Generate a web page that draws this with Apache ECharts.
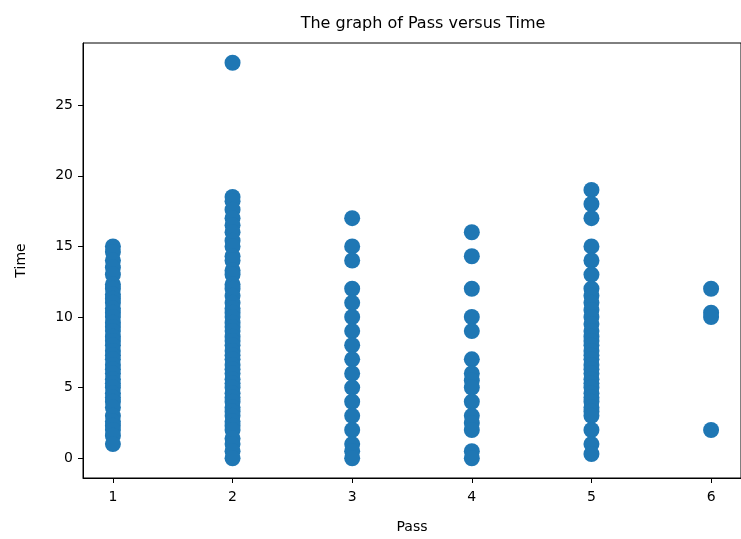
<!DOCTYPE html>
<html>
<head>
<meta charset="utf-8">
<script src="https://cdn.jsdelivr.net/npm/echarts@6/dist/echarts.min.js"></script>
<style>html,body{margin:0;padding:0;background:#fff}#c{width:741px;height:539px}</style>
</head>
<body>
<div id="c"></div>
<script>
// Time values for each Pass group
var pass1 = [15, 14.6, 14, 13.5, 13, 12.3, 12, 11.6, 11.3, 11, 10.6, 10.3, 10, 9.6, 9.3, 9, 8.6, 8.3, 8, 7.6, 7.3, 7, 6.6, 6.3, 6, 5.6, 5.3, 5, 4.6, 4.3, 4, 3.6, 3, 2.6, 2.3, 2, 1.6, 1];
var pass2 = [28, 18.5, 18.2, 17.6, 17, 16.5, 16, 15.4, 15, 14.3, 14, 13.3, 13, 12.3, 12, 11.5, 11, 10.6, 10.3, 10, 9.6, 9.3, 9, 8.6, 8.3, 8, 7.6, 7.3, 7, 6.6, 6.3, 6, 5.6, 5.3, 5, 4.6, 4.3, 4, 3.6, 3.3, 3, 2.6, 2.3, 2, 1.4, 1, 0.5, 0];
var pass3 = [17, 15, 14, 12, 11, 10, 9, 8, 7, 6, 5, 4, 3, 2, 1, 0.5, 0];
var pass4 = [16, 14.3, 12, 10, 9, 7, 6, 5.5, 5, 4, 3, 2.5, 2, 0.5, 0];
var pass5 = [19, 18, 17, 15, 14, 13, 12, 11.5, 11, 10.5, 10, 9.5, 9, 8.6, 8.3, 8, 7.6, 7.3, 7, 6.6, 6.3, 6, 5.6, 5.3, 5, 4.6, 4.3, 4, 3.6, 3.3, 3, 2, 1, 0.3];
var pass6 = [12, 10.3, 10, 2];
var groups = [pass1, pass2, pass3, pass4, pass5, pass6];
var xTicks = [1, 2, 3, 4, 5, 6];
var yTicks = [0, 5, 10, 15, 20, 25];

var points = [];
groups.forEach(function (g, i) {
  g.forEach(function (v) { points.push([xTicks[i], v]); });
});

var chart = echarts.init(document.getElementById('c'), null, {renderer: 'canvas'});
var font = 'DejaVu Sans';
chart.setOption({
  animation: false,
  title: {
    text: 'The graph of Pass versus Time',
    left: 418, top: 11, textAlign: 'center',
    textStyle: {fontFamily: font, fontSize: 16, fontWeight: 'normal', color: '#000'}
  },
  grid: {left: 83, top: 43, right: -12, bottom: 60, show: true, borderColor: '#000', borderWidth: 1, backgroundColor: '#fff'},
  xAxis: {
    type: 'value', min: 0.75, max: 6.25,
    name: 'Pass', nameLocation: 'middle', nameGap: 42,
    nameTextStyle: {fontFamily: font, fontSize: 14, color: '#000'},
    axisLine: {show: true, onZero: false, lineStyle: {color: '#000', width: 1}},
    axisTick: {show: true, length: 5, inside: false, customValues: xTicks, lineStyle: {color: '#000'}},
    axisLabel: {customValues: xTicks, fontFamily: font, fontSize: 14, color: '#000', margin: 12},
    splitLine: {show: false}
  },
  yAxis: {
    type: 'value', min: -1.4, max: 29.4,
    name: 'Time', nameLocation: 'middle', nameGap: 55, nameRotate: 90,
    nameTextStyle: {fontFamily: font, fontSize: 14, color: '#000'},
    axisLine: {show: true, onZero: false, lineStyle: {color: '#000', width: 1}},
    axisTick: {show: true, length: 5, inside: false, customValues: yTicks, lineStyle: {color: '#000'}},
    axisLabel: {customValues: yTicks, fontFamily: font, fontSize: 14, color: '#000', margin: 10},
    splitLine: {show: false}
  },
  series: [{
    type: 'scatter',
    data: points,
    symbol: 'circle',
    symbolSize: 16,
    itemStyle: {color: '#1f77b4', opacity: 1}
  }]
});
</script>
</body>
</html>
